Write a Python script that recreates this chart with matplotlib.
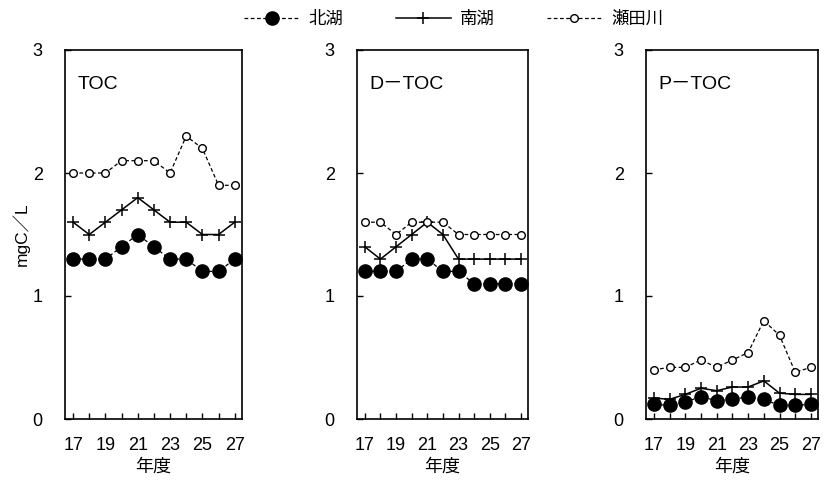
import matplotlib
matplotlib.use("Agg")
import matplotlib.pyplot as plt
from matplotlib.lines import Line2D

plt.rcParams['font.family'] = ['Liberation Sans', 'Noto Sans CJK JP', 'DejaVu Sans']

years = [17, 18, 19, 20, 21, 22, 23, 24, 25, 26, 27]
xtick_labels = [17, 19, 21, 23, 25, 27]
panel_titles = ["TOC", "D－TOC", "P－TOC"]
series_names = ["北湖", "南湖", "瀬田川"]

toc_kita = [1.3, 1.3, 1.3, 1.4, 1.5, 1.4, 1.3, 1.3, 1.2, 1.2, 1.3]
toc_minami = [1.6, 1.5, 1.6, 1.7, 1.8, 1.7, 1.6, 1.6, 1.5, 1.5, 1.6]
toc_seta = [2.0, 2.0, 2.0, 2.1, 2.1, 2.1, 2.0, 2.3, 2.2, 1.9, 1.9]

dtoc_kita = [1.2, 1.2, 1.2, 1.3, 1.3, 1.2, 1.2, 1.1, 1.1, 1.1, 1.1]
dtoc_minami = [1.4, 1.3, 1.4, 1.5, 1.6, 1.5, 1.3, 1.3, 1.3, 1.3, 1.3]
dtoc_seta = [1.6, 1.6, 1.5, 1.6, 1.6, 1.6, 1.5, 1.5, 1.5, 1.5, 1.5]

ptoc_kita = [0.12, 0.11, 0.14, 0.18, 0.15, 0.16, 0.18, 0.16, 0.11, 0.11, 0.12]
ptoc_minami = [0.17, 0.16, 0.20, 0.25, 0.23, 0.26, 0.26, 0.31, 0.21, 0.20, 0.20]
ptoc_seta = [0.40, 0.42, 0.42, 0.48, 0.42, 0.48, 0.54, 0.80, 0.68, 0.38, 0.42]

data = [
    (toc_kita, toc_minami, toc_seta),
    (dtoc_kita, dtoc_minami, dtoc_seta),
    (ptoc_kita, ptoc_minami, ptoc_seta),
]

fig = plt.figure(figsize=(8.28, 4.88), dpi=100)
W, H = 828, 488
boxes = [(65, 242), (357, 528), (646, 818)]
top_px, bot_px = 50, 419

styles = [
    dict(color='black', linestyle=(0, (3, 2)), linewidth=0.9, marker='o', markersize=9.5,
         markerfacecolor='black', markeredgecolor='black'),
    dict(color='black', linestyle='-', linewidth=1.1, marker='+', markersize=8,
         markeredgewidth=1.1),
    dict(color='black', linestyle=(0, (3, 2)), linewidth=0.9, marker='o', markersize=5.5,
         markerfacecolor='white', markeredgecolor='black', markeredgewidth=1.0),
]

for i, (l, r) in enumerate(boxes):
    ax = fig.add_axes([l / W, 1 - bot_px / H, (r - l) / W, (bot_px - top_px) / H])
    for s, vals in enumerate(data[i]):
        ax.plot(years, vals, clip_on=False, zorder=3, **styles[s])
    ax.set_xlim(16.5, 27.45)
    ax.set_ylim(0, 3)
    ax.set_yticks([0, 1, 2, 3])
    ax.set_xticks(years, minor=False)
    ax.set_xticklabels([str(y) if y in xtick_labels else "" for y in years])
    ax.tick_params(axis='both', direction='in', length=4, width=1.0, labelsize=13)
    ax.tick_params(axis='x', pad=13)
    ax.tick_params(axis='y', pad=16)
    for sp in ax.spines.values():
        sp.set_linewidth(1.2)
    ax.set_xlabel("年度", fontsize=13, labelpad=3)
    ax.text(0.07, 0.93, panel_titles[i], transform=ax.transAxes, fontsize=14,
            va='top', ha='left')
    if i == 0:
        ax.set_ylabel("mgC／L", fontsize=12.5, labelpad=2)

handles = [Line2D([], [], **styles[s]) for s in range(3)]
fig.legend(handles, series_names, loc='upper center', bbox_to_anchor=(0.548, 1.01),
           ncol=3, frameon=False, fontsize=12.5, handlelength=3.2,
           columnspacing=3.0, handletextpad=0.5)

fig.savefig("out.png", dpi=100)
